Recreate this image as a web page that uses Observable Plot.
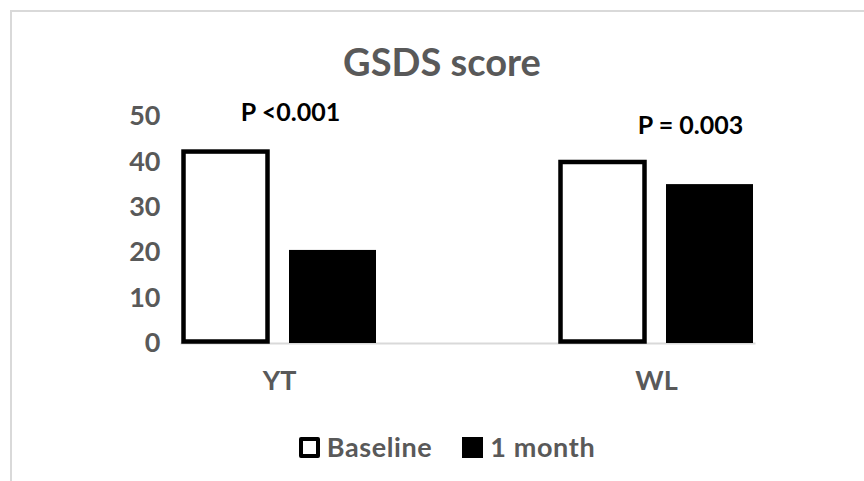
<!DOCTYPE html>
<html>
<head>
<meta charset="utf-8">
<script src="https://cdn.jsdelivr.net/npm/d3@7"></script>
<script src="https://cdn.jsdelivr.net/npm/@observablehq/plot@0.6"></script>
<style>
  html, body { margin: 0; padding: 0; background: #fff; }
  #wrap { position: relative; width: 864px; height: 481px; overflow: hidden; font-family: Lato, "Open Sans", sans-serif; font-weight: bold; }
  #border { position: absolute; left: 10px; top: 10px; width: 900px; height: 500px; border-top: 2px solid #d9d9d9; border-left: 2px solid #d9d9d9; }
  #chart { position: absolute; left: 0; top: 0; }
  #title { position: absolute; left: 0; width: 884px; top: 39px; text-align: center; font-size: 38px; color: #595959; line-height: 44px; }
  #legend { position: absolute; left: 0; width: 894px; top: 432px; display: flex; justify-content: center; align-items: center; gap: 0; font-size: 27px; letter-spacing: 0.6px; color: #595959; line-height: 30px; }
  .item { display: flex; align-items: center; }
  .sw { width: 21px; height: 21px; box-sizing: border-box; margin-right: 7px; }
</style>
</head>
<body>
<div id="wrap">
  <div id="border"></div>
  <div id="chart"></div>
  <div id="title"></div>
  <div id="legend"></div>
</div>
<script>
const title = "GSDS score";
const groups = ["YT", "WL"];
const seriesNames = ["Baseline", "1 month"];
const baselineValues = [42.5, 40.2];
const monthValues = [20.5, 35.0];
const pLabels = ["P <0.001", "P = 0.003"];
const pLabelY = [50.8, 48.0];
const yTicks = [0, 10, 20, 30, 40, 50];

const rows = [];
groups.forEach((g, i) => {
  rows.push({group: g, series: seriesNames[0], value: baselineValues[i]});
  rows.push({group: g, series: seriesNames[1], value: monthValues[i]});
});
const notes = groups.map((g, i) => ({group: g, text: pLabels[i], y: pLabelY[i]}));

const plot = Plot.plot({
  width: 864,
  height: 481,
  marginLeft: 90,
  marginRight: 19,
  marginTop: 116,
  marginBottom: 138,
  style: {fontFamily: "Lato, 'Open Sans', sans-serif", fontWeight: "bold", fontSize: "27px", color: "#595959", background: "transparent", overflow: "visible"},
  y: {domain: [0, 50], ticks: yTicks, tickSize: 0, tickPadding: 21, label: null},
  fx: {domain: groups, paddingInner: 0.48, paddingOuter: 0.24, tickSize: 0, tickPadding: 27, label: null, axis: "bottom"},
  x: {domain: seriesNames, paddingInner: 0.185, paddingOuter: 0, axis: null},
  marks: [
    Plot.frame({facet: "super", anchor: "bottom", stroke: "#d9d9d9", strokeWidth: 2}),
    Plot.barY(rows.filter(d => d.series === seriesNames[0]), {fx: "group", x: "series", y: "value", fill: "white", stroke: "black", strokeWidth: 4.5, inset: 1.5}),
    Plot.barY(rows.filter(d => d.series === seriesNames[1]), {fx: "group", x: "series", y: "value", fill: "black"}),
    Plot.text(notes.filter(d => d.group === groups[0]), {fx: "group", y: "y", text: "text", frameAnchor: "middle", dx: 11, fill: "black", fontSize: 25}),
    Plot.text(notes.filter(d => d.group === groups[1]), {fx: "group", y: "y", text: "text", frameAnchor: "middle", dx: 34, fill: "black", fontSize: 25})
  ]
});
document.getElementById("chart").appendChild(plot);
document.getElementById("title").textContent = title;

const legend = document.getElementById("legend");
seriesNames.forEach((s, i) => {
  const item = document.createElement("div");
  item.className = "item";
  if (i > 0) item.style.marginLeft = "30px";
  const sw = document.createElement("div");
  sw.className = "sw";
  if (i === 0) { sw.style.background = "white"; sw.style.border = "4px solid black"; sw.style.borderRadius = "2px"; }
  else { sw.style.background = "black"; }
  const t = document.createElement("span");
  t.textContent = s;
  item.appendChild(sw);
  item.appendChild(t);
  legend.appendChild(item);
});
</script>
</body>
</html>
